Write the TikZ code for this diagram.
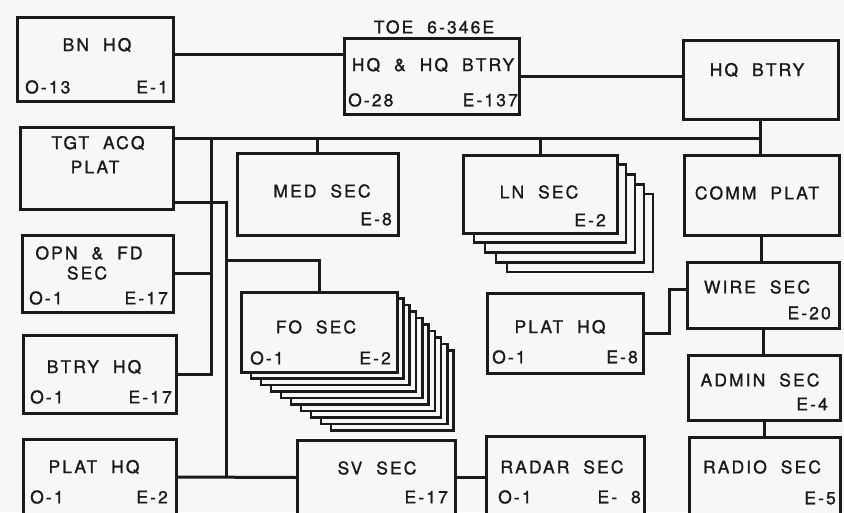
\documentclass[tikz,border=0pt]{standalone}
\usepackage{fontspec}
\setmainfont{TeX Gyre Heros}[LetterSpace=12, WordSpace=2, FakeBold=1.2]
\definecolor{ink}{HTML}{1A1A1A}
\definecolor{paper}{HTML}{F7F7F5}
\tikzset{
  box/.style={draw=ink, line width=3pt, fill=paper, rectangle, inner sep=0pt, outer sep=0pt},
  lyr/.style={draw=ink, line width=2.6pt, fill=paper},
  lbl/.style={inner sep=0pt, text=ink, font=\fontsize{17.5}{17.5}\selectfont},
  lw/.style={lbl, anchor=west},
  le/.style={lbl, anchor=east},
  conn/.style={draw=ink, line width=3pt},
}
\newcommand\ubox[5]{\node[box, minimum width={(#4-#2)*1pt}, minimum height={(#5-#3)*1pt}] (#1) at ({(#2+#4)/2},{(#3+#5)/2}) {};}
\begin{document}
\begin{tikzpicture}[x=1pt, y=-1pt]
\fill[paper] (0,0) rectangle (844,512);
\useasboundingbox (0,0) rectangle (844,512);

% stacked layers
\foreach \i in {9,8,...,1}
  \draw[lyr] ({241+10*\i},{292+6.5*\i}) rectangle ({397+6.3*\i},{372+6.5*\i});
\foreach \i in {4,3,2,1}
  \draw[lyr] ({463+11*\i},{155+9.75*\i}) rectangle ({617+9*\i},{233+9.75*\i});

% boxes
\ubox{bnhq}{17}{17}{173}{101}
\ubox{hqhq}{344}{38}{519}{114}
\ubox{hqbtry}{683}{40}{838}{119}
\ubox{tgt}{20}{127}{173}{209}
\ubox{med}{237}{153}{398}{235}
\ubox{ln}{463}{155}{617}{233}
\ubox{comm}{684}{155}{839}{235}
\ubox{opn}{22}{235}{173}{312}
\ubox{btry}{23}{335}{176}{413}
\ubox{fo}{241}{292}{397}{372}
\ubox{plathqb}{487}{293}{643}{373}
\ubox{wire}{687}{262}{839}{328}
\ubox{admin}{688}{355}{840}{420}
\ubox{radio}{689}{437}{840}{515}
\ubox{radar}{486}{436}{644}{515}
\ubox{sv}{297}{440}{455}{515}
\ubox{plathqa}{23}{439}{176}{515}

% junction coordinates
\coordinate (j1) at (211,138);
\coordinate (k1) at (226,202);
\coordinate (k2) at (226,260);
\coordinate (m1) at (669,289);

% connectors
\draw[conn] ([yshift=5pt]bnhq.east) -- ([yshift=5pt]bnhq.east -| hqhq.west);
\draw[conn] (hqhq.east) -- (hqhq.east -| hqbtry.west);
\draw[conn] (hqbtry.south) -- (hqbtry.south |- comm.north);
\draw[conn] (tgt.east |- j1) -- (j1 -| hqbtry.south);
\draw[conn] (med.north) -- (med.north |- j1);
\draw[conn] (ln.north) -- (ln.north |- j1);
\draw[conn] (j1) |- (btry.east);
\draw[conn] (opn.east) -- (opn.east -| j1);
\draw[conn] (tgt.east |- k1) -- (k1) -- (k1 |- plathqa.east);
\draw[conn] (k2) -| (fo.north);
\draw[conn] (plathqa.east) -- (sv.west);
\draw[conn] (sv.east) -- (sv.east -| radar.west);
\draw[conn] (plathqb.east) -| (m1) -- (m1 -| wire.west);
\draw[conn] (comm.south) -- (comm.south |- wire.north);
\draw[conn] (wire.south) -- (wire.south |- admin.north);
\draw[conn] (admin.south) -- (admin.south |- radio.north);

% labels
\node[lbl] (l-bnhq) at (97,45) {BN HQ};
\node[lw] (l-bnhq-o) at (25,87) {O-13};
\node[le] (l-bnhq-e) at (168,87) {E-1};

\node[lbl] (l-toe) at (434,27) {TOE 6-346E};
\node[lbl] (l-hqhq) at (433,65) {HQ \& HQ BTRY};
\node[lw] (l-hqhq-o) at (348,100) {O-28};
\node[le] (l-hqhq-e) at (518,100) {E-137};

\node[lbl] (l-hqbtry) at (757,70) {HQ BTRY};

\node[lbl] (l-tgt1) at (98,143) {TGT ACQ};
\node[lbl] (l-tgt2) at (95,167) {PLAT};

\node[lbl] (l-med) at (322,191) {MED SEC};
\node[le] (l-med-e) at (392,219) {E-8};

\node[lbl] (l-ln) at (539,192) {LN SEC};
\node[le] (l-ln-e) at (606,220) {E-2};

\node[lbl] (l-comm) at (757,193) {COMM PLAT};

\node[lbl] (l-opn1) at (89,253) {OPN \& FD};
\node[lbl] (l-opn2) at (87,273) {SEC};
\node[lw] (l-opn-o) at (29,298) {O-1};
\node[le] (l-opn-e) at (168,298) {E-17};

\node[lbl] (l-btry) at (94,367) {BTRY HQ};
\node[lw] (l-btry-o) at (30,397) {O-1};
\node[le] (l-btry-e) at (172,397) {E-17};

\node[lbl] (l-fo) at (316,327) {FO SEC};
\node[lw] (l-fo-o) at (250,358) {O-1};
\node[le] (l-fo-e) at (391,358) {E-2};

\node[lbl] (l-plathqb) at (560,327) {PLAT HQ};
\node[lw] (l-plathqb-o) at (492,357) {O-1};
\node[le] (l-plathqb-e) at (638,357) {E-8};

\node[lbl] (l-wire) at (757,287) {WIRE SEC};
\node[le] (l-wire-e) at (831,313) {E-20};

\node[lbl] (l-admin) at (760,380) {ADMIN SEC};
\node[le] (l-admin-e) at (828,404) {E-4};

\node[lbl] (l-radio) at (762,467) {RADIO SEC};
\node[le] (l-radio-e) at (836,498) {E-5};

\node[lbl] (l-radar) at (562,467) {RADAR SEC};
\node[lw] (l-radar-o) at (498,497) {O-1};
\node[le] (l-radar-e) at (641,497) {E- 8};

\node[lbl] (l-sv) at (377,468) {SV SEC};
\node[le] (l-sv-e) at (448,497) {E-17};

\node[lbl] (l-plathqa) at (94,467) {PLAT HQ};
\node[lw] (l-plathqa-o) at (30,497) {O-1};
\node[le] (l-plathqa-e) at (168,497) {E-2};
\end{tikzpicture}
\end{document}
